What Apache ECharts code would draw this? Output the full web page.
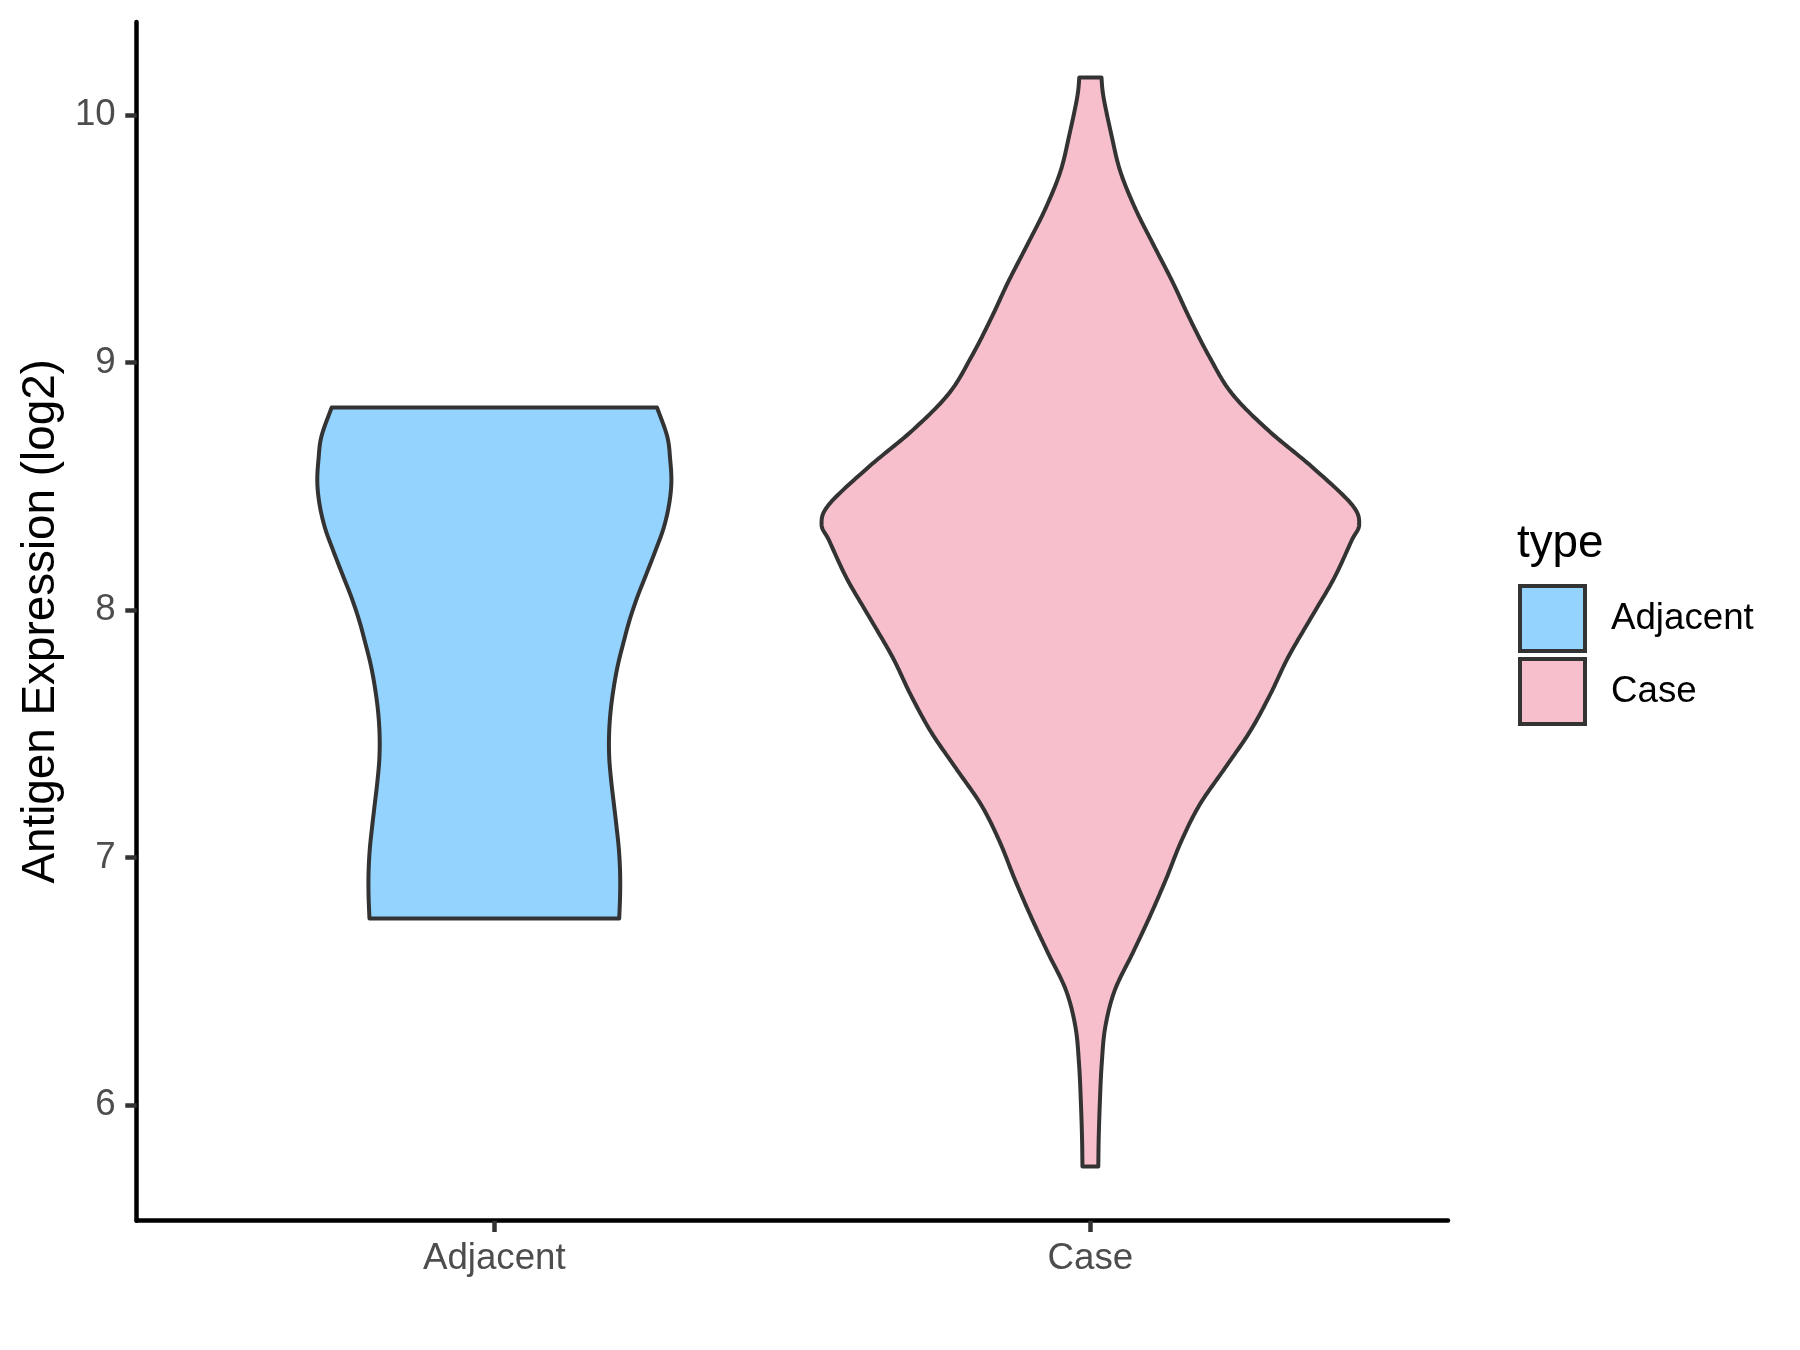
<!DOCTYPE html>
<html><head><meta charset="utf-8">
<script src="https://cdn.jsdelivr.net/npm/echarts@6/dist/echarts.min.js"></script>
<style>html,body{margin:0;padding:0;background:#fff}#c{width:1800px;height:1350px}</style>
</head><body><div id="c"></div>
<script>
// ---- data ----
const categories = ['Adjacent', 'Case'];
const yTicks = [6, 7, 8, 9, 10];
const legendTitle = 'type';
const yTitle = 'Antigen Expression (log2)';

// violin outline: expression value (top -> bottom) and half-width (category units)
const adjacentY = [8.818, 8.702, 8.609, 8.516, 8.424, 8.331, 8.238, 8.145, 8.053, 7.960, 7.867, 7.775, 7.682, 7.589, 7.496, 7.403, 7.311, 7.218, 7.125, 7.032, 6.939, 6.847, 6.754];
const adjacentW = [0.273, 0.290, 0.295, 0.297, 0.293, 0.284, 0.270, 0.255, 0.240, 0.227, 0.2165, 0.207, 0.2, 0.195, 0.1925, 0.1928, 0.196, 0.2005, 0.205, 0.209, 0.211, 0.211, 0.2095];

const caseY = [10.152, 10.073, 9.923, 9.774, 9.624, 9.475, 9.325, 9.176, 9.026, 8.876, 8.727, 8.578, 8.428, 8.347, 8.279, 8.129, 7.98, 7.81, 7.66, 7.51, 7.362, 7.212, 7.063, 6.913, 6.763, 6.614, 6.464, 6.315, 6.165, 6.016, 5.867, 5.752];
const caseW = [0.0186, 0.022, 0.035, 0.050, 0.075, 0.106, 0.138, 0.167, 0.199, 0.237, 0.298, 0.372, 0.438, 0.451, 0.438, 0.409, 0.373, 0.332, 0.302, 0.268, 0.226, 0.183, 0.152, 0.127, 0.100, 0.071, 0.041, 0.025, 0.019, 0.016, 0.014, 0.0133];

const fills = ['#93D3FE', '#F7BFCB'];
const FONT = '"Liberation Sans", Arial, Helvetica, sans-serif';

// Catmull-Rom smoothing in pixel space (rendering only)
function spline(p) {
  const out = [];
  const n = p.length;
  for (let i = 0; i < n - 1; i++) {
    const p0 = p[Math.max(i - 1, 0)], p1 = p[i], p2 = p[i + 1], p3 = p[Math.min(i + 2, n - 1)];
    const steps = 14;
    for (let s = 0; s < steps; s++) {
      const t = s / steps, t2 = t * t, t3 = t2 * t;
      const f = (a, b, c, d) => 0.5 * ((2 * b) + (-a + c) * t + (2 * a - 5 * b + 4 * c - d) * t2 + (-a + 3 * b - 3 * c + d) * t3);
      out.push([f(p0[0], p1[0], p2[0], p3[0]), f(p0[1], p1[1], p2[1], p3[1])]);
    }
  }
  out.push(p[n - 1]);
  return out;
}

function makeRender(ys, ws, fill) {
  return function (params, api) {
    const c = api.value(0);
    const left = spline(ys.map((v, i) => api.coord([c - ws[i], v])));
    const right = spline(ys.map((v, i) => api.coord([c + ws[i], v]))).reverse();
    return {
      type: 'polygon',
      shape: { points: left.concat(right) },
      style: { fill: fill, stroke: '#333333', lineWidth: 4, lineJoin: 'round' }
    };
  };
}

const chart = echarts.init(document.getElementById('c'), null, { renderer: 'canvas' });
chart.setOption({
  backgroundColor: '#ffffff',
  animation: false,
  title: {
    text: legendTitle, left: 1517, top: 521, padding: 0,
    textStyle: { fontFamily: FONT, fontSize: 45.8, fontWeight: 'normal', color: '#000' }
  },
  legend: {
    left: 1513, top: 579, orient: 'vertical',
    itemWidth: 65, itemHeight: 65, itemGap: 4,
    icon: 'rect',
    textStyle: { fontFamily: FONT, fontSize: 36.7, color: '#000', padding: [0, 0, 0, 21] },
    data: [
      { name: categories[0], itemStyle: { color: fills[0], borderColor: '#333333', borderWidth: 4 } },
      { name: categories[1], itemStyle: { color: fills[1], borderColor: '#333333', borderWidth: 4 } }
    ]
  },
  grid: { left: 136.7, right: 352, top: 22, bottom: 129.3, containLabel: false },
  xAxis: {
    type: 'value', min: 0.4, max: 2.6,
    splitLine: { show: false },
    axisLine: { show: true, lineStyle: { color: '#000', width: 4.5 } },
    axisTick: { show: true, customValues: [1, 2], length: 11.4, lineStyle: { color: '#333333', width: 4.5 } },
    axisLabel: {
      show: true, customValues: [1, 2], margin: 20,
      formatter: v => categories[Math.round(v) - 1],
      fontFamily: FONT, fontSize: 36.7, color: '#4D4D4D'
    }
  },
  yAxis: {
    type: 'value', min: 5.5325, max: 10.376,
    name: yTitle, nameLocation: 'middle', nameGap: 72, nameRotate: 90,
    nameTextStyle: { fontFamily: FONT, fontSize: 45.8, color: '#000' },
    splitLine: { show: false },
    axisLine: { show: true, lineStyle: { color: '#000', width: 4.5 } },
    axisTick: { show: true, customValues: yTicks, length: 11.4, lineStyle: { color: '#333333', width: 4.5 } },
    axisLabel: {
      show: true, customValues: yTicks, margin: 21,
      fontFamily: FONT, fontSize: 36.7, color: '#4D4D4D'
    }
  },
  series: [
    { type: 'custom', name: categories[0], data: [[1, 8]], encode: { x: 0, y: 1 }, itemStyle: { color: fills[0] }, renderItem: makeRender(adjacentY, adjacentW, fills[0]) },
    { type: 'custom', name: categories[1], data: [[2, 8]], encode: { x: 0, y: 1 }, itemStyle: { color: fills[1] }, renderItem: makeRender(caseY, caseW, fills[1]) }
  ]
});
</script>
</body></html>
